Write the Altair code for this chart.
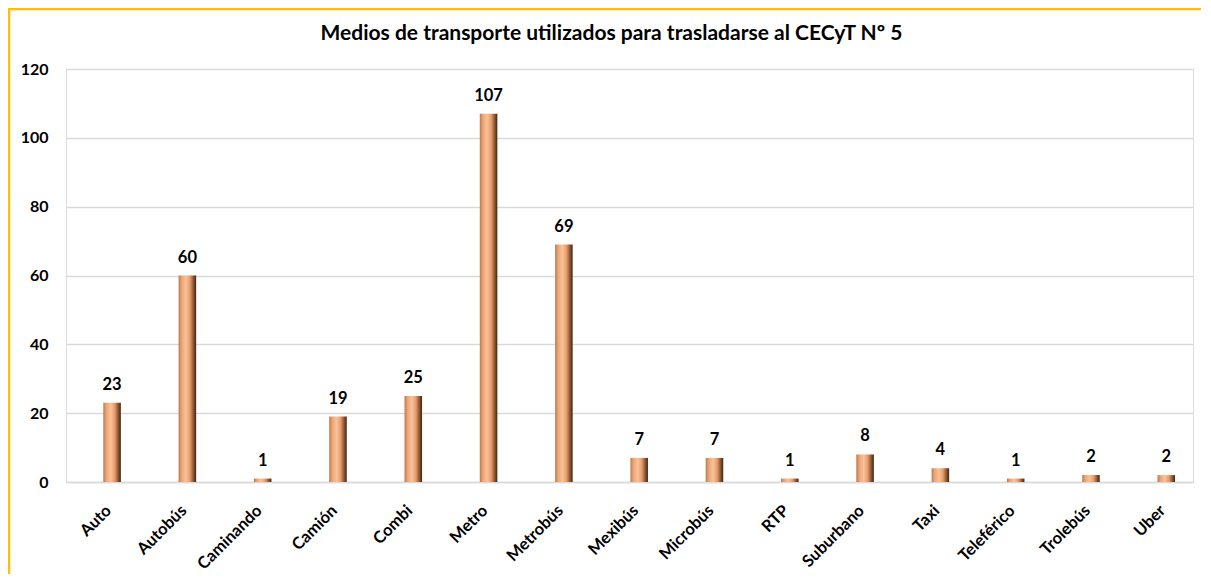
import altair as alt
import pandas as pd

categories = ["Auto", "Autobús", "Caminando", "Camión", "Combi", "Metro", "Metrobús",
              "Mexibús", "Microbús", "RTP", "Suburbano", "Taxi", "Teleférico",
              "Trolebús", "Uber"]
values = [23, 60, 1, 19, 25, 107, 69, 7, 7, 1, 8, 4, 1, 2, 2]
y_ticks = [0, 20, 40, 60, 80, 100, 120]
title_text = "Medios de transporte utilizados para trasladarse al CECyT Nº 5"

df = pd.DataFrame({"medio": categories, "valor": values})

FONT = "Lato"
W, H = 1127, 413

gradient = alt.LinearGradient(
    gradient="linear", x1=0, x2=1, y1=0, y2=0,
    stops=[
        alt.GradientStop(color="#b87a52", offset=0),
        alt.GradientStop(color="#eea676", offset=0.18),
        alt.GradientStop(color="#f9c29a", offset=0.42),
        alt.GradientStop(color="#e69c6a", offset=0.65),
        alt.GradientStop(color="#8a5433", offset=0.85),
        alt.GradientStop(color="#3f2414", offset=1),
    ],
)

x = alt.X(
    "medio:N", sort=categories,
    scale=alt.Scale(paddingInner=0.767, paddingOuter=0.367, align=0.675),
    axis=alt.Axis(title=None, labelAngle=-45, labelFont=FONT, labelFontSize=16.5,
                  labelFontWeight="bold", labelColor="#000000", ticks=False,
                  domainColor="#d9d9d9", domainWidth=1.5, labelPadding=20,
                  labelOffset=-9),
)
y = alt.Y(
    "valor:Q", scale=alt.Scale(domain=[0, 120], nice=False),
    axis=alt.Axis(title=None, values=y_ticks, labelFont=FONT, labelFontSize=16,
                  labelFontWeight="bold", labelColor="#000000", ticks=False,
                  domain=False, gridColor="#d9d9d9", gridWidth=1.3, labelPadding=18),
)

base = alt.Chart(df)
bars = base.mark_bar(color=gradient).encode(x=x, y=y)
labels = base.mark_text(font=FONT, fontSize=16.5, fontWeight="bold", color="#000000",
                        baseline="bottom", dy=-10).encode(
    x=alt.X("medio:N", sort=categories), y="valor:Q", text="valor:Q")

border_df = pd.DataFrame({"b": [0]})
left_border = alt.Chart(border_df).mark_rule(color="#FFC000", strokeWidth=2.5).encode(
    x=alt.value(-57), y=alt.value(-60), y2=alt.value(H + 100))
top_border = alt.Chart(border_df).mark_rule(color="#FFC000", strokeWidth=2.5).encode(
    y=alt.value(-60), x=alt.value(-58), x2=alt.value(W + 20))

chart = alt.layer(bars, labels, left_border, top_border).properties(
    width=W, height=H,
    title=alt.TitleParams(title_text, font=FONT, fontSize=21, fontWeight="bold",
                          color="#000000", anchor="middle", offset=14, dy=50, dx=-18),
    autosize=alt.AutoSizeParams(type="none"),
    padding={"left": 58, "top": 61, "right": 8, "bottom": 92},
).configure_view(stroke=None).configure(background="#ffffff")

chart.save("out.html", embed_options={"renderer": "svg", "actions": False})
